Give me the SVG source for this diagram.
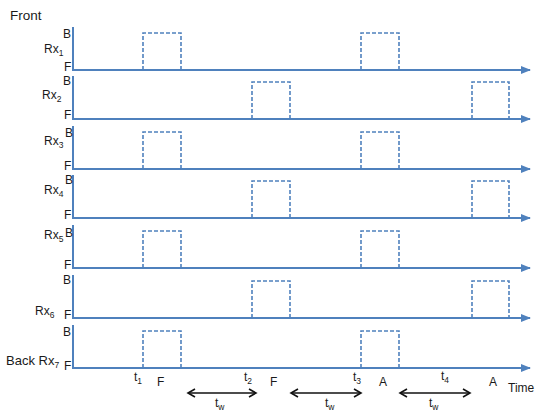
<svg xmlns="http://www.w3.org/2000/svg" width="536" height="412" viewBox="0 0 536 412">
<style>
text{font-family:"Liberation Sans",Arial,sans-serif;font-size:12px;fill:#1a1a1a}
.ax{fill:none;stroke:#4f81bd;stroke-width:2}
.p{fill:none;stroke:#4f81bd;stroke-width:1.6;stroke-dasharray:4 2}
.tw{fill:none;stroke:#111;stroke-width:1.6}
.sub{font-size:8.5px}
</style>
<defs>
<marker id="ah" markerWidth="10" markerHeight="8" refX="9" refY="4" orient="auto" markerUnits="userSpaceOnUse">
<path d="M0,0 L10,4 L0,8 Z" fill="#4f81bd"/>
</marker>
<marker id="bk" markerWidth="10" markerHeight="10" refX="8" refY="5" orient="auto-start-reverse" markerUnits="userSpaceOnUse">
<path d="M1,1 L8,5 L1,9" fill="none" stroke="#111" stroke-width="1.6"/>
</marker>
</defs>
<text x="10" y="20" style="font-size:13.5px">Front</text>
<g id="rx1">
<path class="ax" d="M73,27 V70 H530" marker-end="url(#ah)"/>
<path class="p" d="M143,70 V33 H181 V70 M361,70 V33 H399 V70"/>
<text x="63" y="38">B</text><text x="64" y="71">F</text>
<text x="44" y="53">Rx<tspan class="sub" dy="3">1</tspan></text>
</g>
<g id="rx2">
<path class="ax" d="M73,76 V119 H530" marker-end="url(#ah)"/>
<path class="p" d="M252,119 V82 H290 V119 M472,119 V82 H509 V119"/>
<text x="63" y="85">B</text><text x="64" y="119">F</text>
<text x="42" y="99">Rx<tspan class="sub" dy="3">2</tspan></text>
</g>
<g id="rx3">
<path class="ax" d="M73,126 V169 H530" marker-end="url(#ah)"/>
<path class="p" d="M143,169 V132 H181 V169 M361,169 V132 H399 V169"/>
<text x="65" y="137">B</text><text x="64" y="170">F</text>
<text x="44" y="145">Rx<tspan class="sub" dy="3">3</tspan></text>
</g>
<g id="rx4">
<path class="ax" d="M73,175 V218 H530" marker-end="url(#ah)"/>
<path class="p" d="M252,218 V181 H290 V218 M472,218 V181 H509 V218"/>
<text x="65" y="184">B</text><text x="64" y="219">F</text>
<text x="44" y="194">Rx<tspan class="sub" dy="3">4</tspan></text>
</g>
<g id="rx5">
<path class="ax" d="M73,225 V268 H530" marker-end="url(#ah)"/>
<path class="p" d="M143,268 V231 H181 V268 M361,268 V231 H399 V268"/>
<text x="65" y="237">B</text><text x="64" y="269">F</text>
<text x="44" y="239">Rx<tspan class="sub" dy="3">5</tspan></text>
</g>
<g id="rx6">
<path class="ax" d="M73,275 V318 H530" marker-end="url(#ah)"/>
<path class="p" d="M252,318 V281 H290 V318 M472,318 V281 H509 V318"/>
<text x="63" y="284">B</text><text x="64" y="319">F</text>
<text x="35" y="315">Rx<tspan class="sub" dy="3">6</tspan></text>
</g>
<g id="rx7">
<path class="ax" d="M73,325 V368 H530" marker-end="url(#ah)"/>
<path class="p" d="M143,368 V331 H181 V368 M361,368 V331 H399 V368"/>
<text x="63" y="336">B</text><text x="64" y="370">F</text>
<text x="6" y="365" style="font-size:13px">Back Rx<tspan class="sub" dy="3">7</tspan></text>
</g>
<g id="timelabels">
<text x="134" y="381">t<tspan class="sub" dy="3">1</tspan></text>
<text x="157" y="386">F</text>
<text x="244" y="381">t<tspan class="sub" dy="3">2</tspan></text>
<text x="270" y="386">F</text>
<text x="353" y="381">t<tspan class="sub" dy="3">3</tspan></text>
<text x="379" y="386">A</text>
<text x="441" y="380">t<tspan class="sub" dy="3">4</tspan></text>
<text x="489" y="386">A</text>
<text x="508" y="392">Time</text>
</g>
<g id="connectors">
<path class="tw" d="M188,393 H256" marker-start="url(#bk)" marker-end="url(#bk)"/>
<path class="tw" d="M291,393 H361" marker-start="url(#bk)" marker-end="url(#bk)"/>
<path class="tw" d="M400,393 H470" marker-start="url(#bk)" marker-end="url(#bk)"/>
</g>
<text x="215" y="407">t<tspan class="sub" dy="3">w</tspan></text>
<text x="325" y="407">t<tspan class="sub" dy="3">w</tspan></text>
<text x="429" y="407">t<tspan class="sub" dy="3">w</tspan></text>
</svg>
